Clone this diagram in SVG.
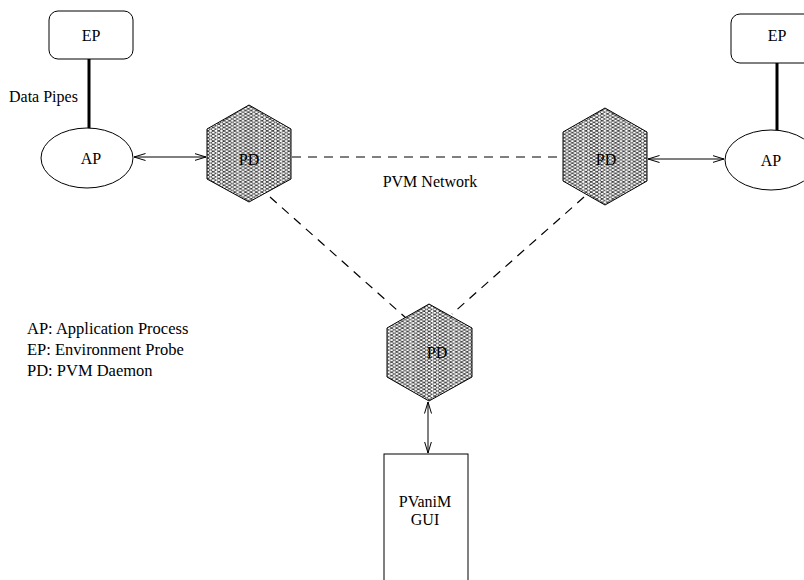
<svg xmlns="http://www.w3.org/2000/svg" width="804" height="580" viewBox="0 0 804 580">
  <style>
    .t { font-family: "Liberation Serif", "Times New Roman", serif; font-size: 16px; fill: #000; }
    .lg { font-size: 16.5px; }
    .c { text-anchor: middle; }
    .box { fill: #fff; stroke: #000; stroke-width: 1; }
    .hex { fill: url(#mesh); stroke: #000; stroke-width: 1; }
    .pipe { stroke: #000; stroke-width: 3; fill: none; }
    .net { stroke: #000; stroke-width: 1.2; stroke-dasharray: 9 7; fill: none; }
    .link { stroke: #000; stroke-width: 1; fill: none; marker-start: url(#head); marker-end: url(#head); }
  </style>
  <defs>
    <!-- diamond mesh for the daemon hexagons, with a pale seam every four cells -->
    <pattern id="mesh" patternUnits="userSpaceOnUse" width="21.6" height="3.4">
      <rect width="21.6" height="3.4" fill="#fff"/>
      <path d="M0,0 L5.4,3.4 L10.8,0 L16.2,3.4 L21.6,0 M0,3.4 L5.4,0 L10.8,3.4 L16.2,0 L21.6,3.4" fill="none" stroke="#000" stroke-width="0.75"/>
      <line x1="0.4" y1="0" x2="0.4" y2="3.4" stroke="#fff" stroke-width="0.8" stroke-opacity="0.7"/>
    </pattern>
    <marker id="head" viewBox="0 0 12 8" refX="11.5" refY="4" markerWidth="12" markerHeight="8" markerUnits="userSpaceOnUse" orient="auto-start-reverse">
      <path d="M0,0.5 L11.5,4 L0,7.5" fill="none" stroke="#000" stroke-width="1"/>
    </marker>
  </defs>

  <!-- connectors -->
  <g id="connectors">
    <line class="pipe" x1="89" y1="59" x2="89" y2="129"/>
    <line class="pipe" x1="777" y1="63" x2="777" y2="130"/>
    <line class="link" x1="134" y1="157" x2="206" y2="157"/>
    <line class="link" x1="648" y1="159" x2="724" y2="159"/>
    <line class="link" x1="428" y1="402" x2="428" y2="453"/>
    <line class="net" x1="292" y1="157" x2="563" y2="157"/>
    <line class="net" x1="270" y1="197" x2="406" y2="318"/>
    <line class="net" x1="584" y1="197" x2="452" y2="314"/>
    <text class="t c" x="430" y="187">PVM Network</text>
    <text class="t" x="9" y="102">Data Pipes</text>
  </g>

  <g id="ep-left">
    <rect class="box" x="49" y="11" width="84" height="48" rx="9"/>
    <text class="t c" x="91" y="41">EP</text>
  </g>
  <g id="ep-right">
    <rect class="box" x="731" y="14" width="90" height="49" rx="9"/>
    <text class="t c" x="777" y="41">EP</text>
  </g>

  <g id="ap-left">
    <ellipse class="box" cx="87" cy="158" rx="46" ry="30"/>
    <text class="t c" x="91" y="164">AP</text>
  </g>
  <g id="ap-right">
    <ellipse class="box" cx="771" cy="160" rx="46" ry="30"/>
    <text class="t c" x="771" y="166">AP</text>
  </g>

  <g id="pd-left">
    <polygon class="hex" points="249,105 291,129 291,179 249,202 207,179 207,129"/>
    <text class="t c" x="249" y="165">PD</text>
  </g>
  <g id="pd-right">
    <polygon class="hex" points="605,108 647,132 647,181 605,205 563,181 563,132"/>
    <text class="t c" x="606" y="165">PD</text>
  </g>
  <g id="pd-bottom">
    <polygon class="hex" points="429,304 472,328 472,377 429,401 387,377 387,328"/>
    <text class="t c" x="437" y="358">PD</text>
  </g>

  <g id="gui">
    <rect class="box" x="384" y="454" width="84" height="140"/>
    <text class="t c" x="425" y="507">PVaniM</text>
    <text class="t c" x="425" y="525">GUI</text>
  </g>

  <g id="legend">
    <text class="t lg" x="27" y="334">AP: Application Process</text>
    <text class="t lg" x="27" y="355">EP: Environment Probe</text>
    <text class="t lg" x="27" y="376">PD: PVM Daemon</text>
  </g>
</svg>
